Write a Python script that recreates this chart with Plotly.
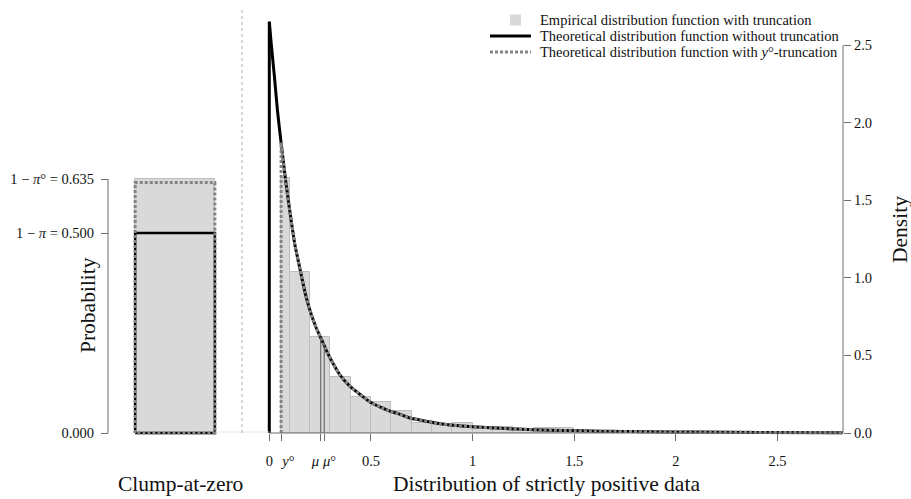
import plotly.graph_objects as go

W, H = 911, 499

# ---- data -------------------------------------------------------------
# truncation point and means of the positive part
y_trunc = 0.058
mu = 0.253
mu_trunc = 0.270
dens_at_mu = 0.62
dens_at_mu_trunc = 0.58

# clump-at-zero probabilities
clump_empirical = 0.635      # 1 - pi° (empirical bar)
clump_no_trunc = 0.500       # 1 - pi
clump_trunc_fit = 0.626      # fitted clump with y°-truncation

# histogram of strictly positive data (density scale)
hist_left = [0.058, 0.1, 0.2, 0.3, 0.4, 0.5, 0.6, 0.7, 0.8, 0.9, 1.0, 1.1,
             1.2, 1.3, 1.4, 1.5, 1.6]
hist_right = [0.1, 0.2, 0.3, 0.4, 0.5, 0.6, 0.7, 0.8, 0.9, 1.0, 1.1, 1.2,
              1.3, 1.4, 1.5, 1.6, 1.7]
hist_density = [1.64, 1.04, 0.62, 0.36, 0.23, 0.20, 0.14, 0.065, 0.05, 0.062,
                0.03, 0.04, 0.022, 0.03, 0.03, 0.012, 0.008]

# theoretical density of the positive part
curve_x = [0.0, 0.01, 0.025, 0.04, 0.058, 0.08, 0.102, 0.125, 0.152, 0.175,
           0.20, 0.23, 0.258, 0.285, 0.313, 0.35, 0.397, 0.45, 0.495, 0.55,
           0.594, 0.64, 0.69, 0.74, 0.84, 0.89, 1.0, 1.135, 1.30, 1.46, 1.63,
           1.87, 2.1, 2.4, 2.82]
curve_y = [2.65, 2.50, 2.30, 2.08, 1.87, 1.63, 1.42, 1.22, 1.05, 0.91,
           0.79, 0.68, 0.60, 0.52, 0.45, 0.37, 0.30, 0.245, 0.20, 0.165,
           0.14, 0.122, 0.097, 0.084, 0.060, 0.052, 0.040, 0.030, 0.021,
           0.016, 0.012, 0.008, 0.006, 0.004, 0.002]

x_ticks = [0, y_trunc, mu, mu_trunc, 0.5, 1, 1.5, 2, 2.5]
NB = "\u00a0"
x_tick_text = ["0", NB * 4 + "<i>y</i>°", "<i>μ</i>" + NB * 3,
               NB * 3 + "<i>μ</i>°", "0.5", "1", "1.5", "2", "2.5"]
dens_ticks = [0, 0.5, 1.0, 1.5, 2.0, 2.5]
prob_ticks = [0, clump_no_trunc, clump_empirical]
prob_tick_text = ["0.000", "1 − <i>π</i> = 0.500", "1 − <i>π</i>° = 0.635"]

legend_labels = [
    "Empirical distribution function with truncation",
    "Theoretical distribution function without truncation",
    "Theoretical distribution function with <i>y</i>°-truncation",
]

# ---- layout geometry (pixels) ----------------------------------------
X0_PX, X_SCALE = 269.3, 203.3       # x = 0 position, px per unit
BASE_PX = 433.0                    # zero line of both y scales
D_SCALE, P_SCALE = 155.2, 400.0    # px per density / probability unit
LEFT_PX, RIGHT_PX = 255.0, 850.0   # data panel extent
BOT_PX = 445.0
AX_RIGHT_PX = 843.0
AX_LEFT_PX = 108.0
SEP_PX = 242.0

FONT = "Liberation Serif"
BAR_FILL = "#d9d9d9"
BAR_EDGE = "#bdbdbd"
DOT_GREY = "#858585"
AXIS_GREY = "#6e6e6e"
DOTS = "3px,2px"


def pxx(p):
    return p / W


def pxy(p):
    return 1 - p / H


fig = go.Figure()

# histogram
fig.add_trace(go.Bar(
    x=[(l + r) / 2 for l, r in zip(hist_left, hist_right)],
    y=hist_density,
    width=[r - l for l, r in zip(hist_left, hist_right)],
    marker=dict(color=BAR_FILL, line=dict(color=BAR_EDGE, width=1)),
    name=legend_labels[0],
    xaxis="x", yaxis="y",
))

# theoretical density without truncation
fig.add_trace(go.Scatter(
    x=curve_x, y=curve_y, mode="lines",
    line=dict(color="black", width=3, shape="spline", smoothing=0.6),
    name=legend_labels[1],
    xaxis="x", yaxis="y",
))

# theoretical density with y°-truncation (same curve from y° on)
trunc_x = [x for x in curve_x if x >= y_trunc]
trunc_y = [y for x, y in zip(curve_x, curve_y) if x >= y_trunc]
fig.add_trace(go.Scatter(
    x=trunc_x, y=trunc_y, mode="lines",
    line=dict(color=DOT_GREY, width=3, dash=DOTS, shape="spline",
              smoothing=0.6),
    name=legend_labels[2],
    xaxis="x", yaxis="y",
))

# vertical jumps at 0 and y°
fig.add_trace(go.Scatter(
    x=[0, 0], y=[0, curve_y[0]], mode="lines",
    line=dict(color="black", width=3),
    xaxis="x", yaxis="y",
))
fig.add_trace(go.Scatter(
    x=[y_trunc, y_trunc], y=[0, trunc_y[0]], mode="lines",
    line=dict(color=DOT_GREY, width=3, dash=DOTS),
    xaxis="x", yaxis="y",
))

# mean markers
for m, d in [(mu, dens_at_mu), (mu_trunc, dens_at_mu_trunc)]:
    fig.add_trace(go.Scatter(
        x=[m, m], y=[0, d], mode="lines",
        line=dict(color="#555555", width=1),
        xaxis="x", yaxis="y",
    ))

# clump-at-zero panel
CLUMP_W = 1.19
hw = CLUMP_W / 2
fig.add_trace(go.Bar(
    x=[0], y=[clump_empirical], width=[CLUMP_W],
    marker=dict(color=BAR_FILL, line=dict(color=BAR_EDGE, width=1)),
    xaxis="x2", yaxis="y2",
))
fig.add_trace(go.Scatter(
    x=[-hw, -hw, hw, hw, -hw], y=[0, clump_no_trunc, clump_no_trunc, 0, 0],
    mode="lines", line=dict(color="black", width=2.5),
    xaxis="x2", yaxis="y2",
))
fig.add_trace(go.Scatter(
    x=[-hw, -hw, hw, hw, -hw], y=[0, clump_trunc_fit, clump_trunc_fit, 0, 0],
    mode="lines", line=dict(color=DOT_GREY, width=3, dash=DOTS),
    xaxis="x2", yaxis="y2",
))

y_dom = [pxy(BOT_PX), 1]
TICK_SIZE = 14.5
tick_font = dict(family=FONT, size=TICK_SIZE, color="#111111")
TITLE_SIZE = 21.5

# legend block (top right)
LEG_TEXT_X = 538
LEG_ROWS = [20, 36, 52]
LEG_LINE = (490, 531)
legend_shapes = [
    dict(type="rect", xref="paper", yref="paper",
         x0=pxx(510), x1=pxx(521), y0=pxy(LEG_ROWS[0] - 5.5),
         y1=pxy(LEG_ROWS[0] + 5.5), fillcolor=BAR_FILL,
         line=dict(width=0)),
    dict(type="line", xref="paper", yref="paper",
         x0=pxx(LEG_LINE[0]), x1=pxx(LEG_LINE[1]),
         y0=pxy(LEG_ROWS[1]), y1=pxy(LEG_ROWS[1]),
         line=dict(color="black", width=3)),
    dict(type="line", xref="paper", yref="paper",
         x0=pxx(LEG_LINE[0]), x1=pxx(LEG_LINE[1]),
         y0=pxy(LEG_ROWS[2]), y1=pxy(LEG_ROWS[2]),
         line=dict(color=DOT_GREY, width=3, dash=DOTS)),
]
legend_text = [
    dict(text=lab, x=pxx(LEG_TEXT_X), y=pxy(row), xref="paper",
         yref="paper", xanchor="left", yanchor="middle", showarrow=False,
         font=dict(family=FONT, size=TICK_SIZE, color="#111111"))
    for lab, row in zip(legend_labels, LEG_ROWS)
]


def title(text, x, y, angle=0):
    return dict(text=text, x=pxx(x), y=pxy(y), xref="paper", yref="paper",
                xanchor="center", yanchor="middle", showarrow=False,
                textangle=angle,
                font=dict(family=FONT, size=TITLE_SIZE, color="#111111"))


fig.update_layout(
    width=W, height=H,
    margin=dict(l=0, r=0, t=0, b=0),
    paper_bgcolor="white", plot_bgcolor="rgba(0,0,0,0)",
    font=dict(family=FONT, color="#111111"),
    bargap=0, barmode="overlay",
    showlegend=False,
    xaxis=dict(
        domain=[pxx(LEFT_PX), pxx(RIGHT_PX)],
        range=[(LEFT_PX - X0_PX) / X_SCALE, (RIGHT_PX - X0_PX) / X_SCALE],
        anchor="free", position=pxy(BASE_PX),
        showline=False, showgrid=False, zeroline=False,
        ticks="outside", ticklen=7, tickcolor=AXIS_GREY, tickwidth=1,
        tickvals=x_ticks, ticktext=x_tick_text, tickfont=tick_font,
        tickangle=0, ticklabelstandoff=8,
    ),
    yaxis=dict(
        domain=y_dom,
        range=[-(BOT_PX - BASE_PX) / D_SCALE, BASE_PX / D_SCALE],
        anchor="free", position=pxx(AX_RIGHT_PX), side="right",
        showline=False, showgrid=False, zeroline=False,
        ticks="outside", ticklen=7, tickcolor=AXIS_GREY, tickwidth=1,
        tickvals=dens_ticks, tickformat=".1f", tickfont=tick_font,
    ),
    xaxis2=dict(
        domain=[pxx(AX_LEFT_PX), pxx(SEP_PX)], range=[-1, 1],
        anchor="y2", visible=False,
    ),
    yaxis2=dict(
        domain=y_dom,
        range=[-(BOT_PX - BASE_PX) / P_SCALE, BASE_PX / P_SCALE],
        anchor="free", position=pxx(AX_LEFT_PX), side="left",
        showline=False, showgrid=False, zeroline=False,
        ticks="outside", ticklen=7, tickcolor=AXIS_GREY, tickwidth=1,
        tickvals=prob_ticks, ticktext=prob_tick_text, tickfont=tick_font,
        ticklabelstandoff=4,
    ),
    shapes=[
        # bottom axis line of the positive-data panel
        dict(type="line", xref="x", yref="paper",
             x0=0, x1=curve_x[-1], y0=pxy(BASE_PX), y1=pxy(BASE_PX),
             line=dict(color=AXIS_GREY, width=1)),
        # faint baseline between the panels
        dict(type="line", xref="paper", yref="paper",
             x0=pxx(215), x1=pxx(X0_PX), y0=pxy(BASE_PX - 1),
             y1=pxy(BASE_PX - 1), line=dict(color="#e6e6e6", width=1)),
        # right density axis line
        dict(type="line", xref="paper", yref="y",
             x0=pxx(AX_RIGHT_PX), x1=pxx(AX_RIGHT_PX), y0=0, y1=dens_ticks[-1],
             line=dict(color=AXIS_GREY, width=1)),
        # left probability axis line
        dict(type="line", xref="paper", yref="y2",
             x0=pxx(AX_LEFT_PX), x1=pxx(AX_LEFT_PX), y0=0, y1=clump_empirical,
             line=dict(color=AXIS_GREY, width=1)),
        # dotted separator between panels
        dict(type="line", xref="paper", yref="paper",
             x0=pxx(SEP_PX), x1=pxx(SEP_PX), y0=pxy(BASE_PX), y1=pxy(8),
             line=dict(color="#b0b0b0", width=1, dash="dot")),
    ] + legend_shapes,
    annotations=[
        title("Clump-at-zero", 180, 484),
        title("Distribution of strictly positive data", 546, 484),
        title("Probability", 88, 305, -90),
        title("Density", 900, 230, -90),
    ] + legend_text,
)

fig.write_html("out.html")
